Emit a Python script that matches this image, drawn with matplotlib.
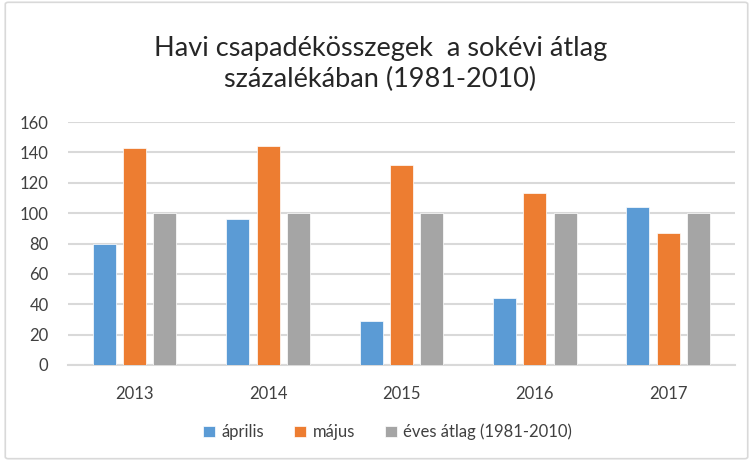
import matplotlib
matplotlib.use("Agg")
import matplotlib.pyplot as plt
import numpy as np
from matplotlib.patches import FancyBboxPatch

years = ["2013", "2014", "2015", "2016", "2017"]
aprilis = [80, 96, 29, 44, 104]
majus = [143, 144, 132, 113, 87]
eves_atlag = [100, 100, 100, 100, 100]

series_labels = ["április", "május", "éves átlag (1981-2010)"]
colors = ["#5b9bd5", "#ed7d31", "#a5a5a5"]

plt.rcParams["font.family"] = ["Lato", "DejaVu Sans"]

fig = plt.figure(figsize=(7.53, 4.61), dpi=100)
ax = fig.add_axes([0.0903, 0.2083, 0.8857, 0.5270])

# outer chart frame
fig.patches.append(FancyBboxPatch((0.007, 0.005), 0.986, 0.99,
                                  boxstyle="round,pad=0,rounding_size=0.004",
                                  transform=fig.transFigure, fill=False,
                                  edgecolor="#d9d9d9", linewidth=1.2))

x = np.arange(len(years))
width = 0.172
step = 0.227
for i, (vals, lab, col) in enumerate(zip([aprilis, majus, eves_atlag], series_labels, colors)):
    ax.bar(x + (i - 1) * step, vals, width, color=col, label=lab,
           edgecolor="white", linewidth=0.5, zorder=3)

ax.set_xlim(-0.5, len(years) - 0.5)
ax.set_ylim(0, 160)
ax.set_yticks(range(0, 161, 20))
ax.set_xticks(x)
ax.set_xticklabels(years)
ax.yaxis.grid(True, color="#d9d9d9", linewidth=1.5, zorder=0)
ax.set_axisbelow(True)
for s in ["top", "right", "left"]:
    ax.spines[s].set_visible(False)
ax.spines["bottom"].set_color("#d9d9d9")
ax.spines["bottom"].set_linewidth(1.5)
ax.tick_params(axis="both", length=0, labelsize=12, colors="#404040")
ax.tick_params(axis="y", pad=14)
ax.tick_params(axis="x", pad=15)

fig.text(0.505, 0.862, "Havi csapadékösszegek  a sokévi átlag\nszázalékában (1981-2010)",
         ha="center", va="center", fontsize=19.5, color="#262626", linespacing=1.3)

fig.legend(loc="center", bbox_to_anchor=(0.515, 0.063), ncol=3, frameon=False,
           fontsize=12, handlelength=0.7, handleheight=0.7, columnspacing=1.8,
           handletextpad=0.4, labelcolor="#404040")

fig.savefig("out.png", dpi=100)
